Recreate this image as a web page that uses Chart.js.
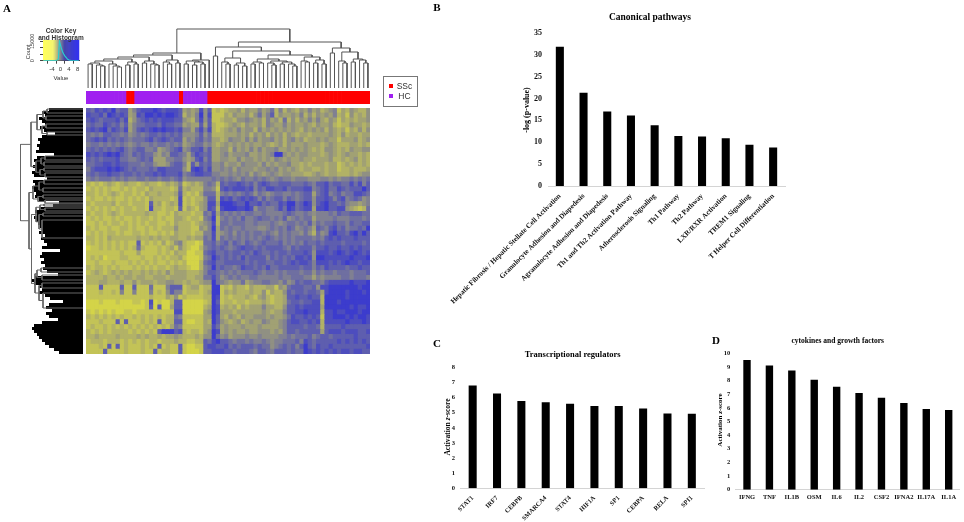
<!DOCTYPE html>
<html>
<head>
<meta charset="utf-8">
<title>SSc vs HC</title>
<script src="https://cdn.jsdelivr.net/npm/chart.js@4"></script>
<style>
  html, body { margin: 0; padding: 0; background: #fff; }
  #page { position: relative; width: 964px; height: 522px; overflow: hidden; filter: blur(0.4px); }
  #page canvas { position: absolute; }
  .txt { position: absolute; white-space: nowrap; color: #000; transform-origin: center; }
  .serif { font-family: "Liberation Serif", serif; font-weight: bold; }
  .sans { font-family: "Liberation Sans", sans-serif; color: #333; }
</style>
</head>
<body>
<div id="page"></div>
<script>
// panel B
var pathways = ["Hepatic Fibrosis / Hepatic Stellate Cell Activation", "Granulocyte Adhesion and Diapedesis",
  "Agranulocyte Adhesion and Diapedesis", "Th1 and Th2 Activation Pathway", "Atherosclerosis Signaling",
  "Th1 Pathway", "Th2 Pathway", "LXR/RXR Activation", "TREM1 Signaling", "T Helper Cell Differentiation"];
var pathwayLogP = [31.8, 21.3, 17.0, 16.1, 13.9, 11.4, 11.3, 10.9, 9.4, 8.8];

// panel C
var regulators = ["STAT1", "IRF7", "CEBPB", "SMARCA4", "STAT4", "HIF1A", "SP1", "CEBPA", "RELA", "SPI1"];
var regulatorZ = [6.8, 6.28, 5.78, 5.7, 5.6, 5.45, 5.45, 5.28, 4.95, 4.93];

// panel D
var cytokines = ["IFNG", "TNF", "IL1B", "OSM", "IL6", "IL2", "CSF2", "IFNA2", "IL17A", "IL1A"];
var cytokineZ = [9.52, 9.12, 8.75, 8.06, 7.55, 7.1, 6.75, 6.37, 5.92, 5.84];

// panel A, sample groups per column (H = HC, S = SSc)
var sampleGroup = "HHHHHHHHHHSSHHHHHHHHHHHSHHHHHHSSSSSSSSSSSSSSSSSSSSSSSSSSSSSSSSSSSSSSSS";

// panel A, expression level per cell: 0 yellow .. 9 blue. one string per row, spaces are only for counting
var heatRows = [
  "7687879677 3578889878 8873434847 1212334243 3534625243 2435342345 13243224",
  "8778698787 3487998989 9872435948 1113243342 4635724334 3524243435 23142324",
  "7876777868 2467878788 8774325847 1123324454 3425342624 2435353243 13232334",
  "6766876757 3566777687 7663433737 2112343243 3425433534 3343243342 12243323",
  "7878968768 3578789898 8785536858 2123435344 2534343434 3243434243 23132424",
  "6565776656 4565677676 7674445746 2223334342 4342434243 2332333343 24233233",
  "6787867676 5666786787 6773546756 3323544353 5344534245 3423343433 13334234",
  "5665656565 4565565665 6563456645 3234343434 3343234243 3343332343 22233232",
  "6767676786 5677556345 6784577857 3344253435 3534453343 4343232443 23243344",
  "8787898976 5767664354 7765368767 3345344453 3434599434 3443332343 23433232",
  "7676777866 5567673335 5664347857 3344335344 3434354343 3433233342 23234232",
  "6677887877 6665664334 6775274767 4453443544 4353434453 3232333233 12323232",
  "5788898987 6766676887 7774289868 4454535444 3445453434 3233223233 12232223",
  "6767787767 7676778787 7785678877 5544545453 5434543443 3322343233 22232344",
  "5656665656 5566566566 5674555555 6565654655 6565456554 5554445545 45565656",
  "2121232123 2212322123 2351232356 5276778767 5787667776 6676577867 76686857",
  "1212121121 2122132222 1262322255 4178788878 5768877867 7788567866 87677797",
  "2212123212 2121322322 2372121366 6256565676 4654566556 5677367856 75668876",
  "1211212112 1212132222 1281212247 7287867878 7575677576 5677477875 78567645",
  "2122223122 1222172312 3281212348 8399987797 7867668799 6798478977 67544345",
  "1212121212 2122182212 2171321348 7289998898 4665568698 6788388977 88432126",
  "2122123212 2222322112 1322212265 8365656566 5565555676 5565455565 76677766",
  "1212112121 1212212121 1332122156 9256565755 6766565745 6566355556 55566656",
  "1121212212 1212122112 1322212345 8266566655 6555654566 5657465667 66576677",
  "2121121122 1211212122 2422211435 9365655655 5445656576 4565376578 67566769",
  "1212122121 1221211212 1322212255 8345646565 6656546565 5464264589 77689797",
  "2212132222 2232232322 3322323365 8365656565 6567656565 6666565787 87778777",
  "1212121212 1171212131 2452110166 7567576576 5676667565 6576676777 76777767",
  "0112121212 1262111212 3142100256 7676567877 6767777657 6777577877 87787877",
  "1111111121 1131111212 1322001167 8667677676 8766767767 7787488878 98789878",
  "1212011122 1112112121 2231000156 9767676867 7775767676 8878499888 88898889",
  "1121112111 2121212112 1212000267 8667777767 6776677678 7887588878 78988788",
  "2122121211 1212121221 2322100256 9676656877 6768667777 7677576877 77677877",
  "1232123232 3223232324 2333222357 7656565666 7656656566 6566465665 66656667",
  "2222322323 3233223332 3333223366 8645656556 6555556556 6655354555 56656665",
  "2223322232 2423332334 4332322344 9654344634 5566554645 7677665788 88898889",
  "1117111171 1711161115 7771233122 9912132213 2223314367 7766748899 99999899",
  "1112112151 1511151214 7551222123 9913232223 2241322476 7767763899 99899989",
  "1111111111 1111121113 2412111122 9812122232 1342122377 8778772999 99899999",
  "0001000100 0110180100 2770000012 9712212212 2232122367 7677882999 89999999",
  "0000000000 0000170700 3770000023 9823231323 3353322477 8788883999 99989889",
  "1010101001 1011111111 1880000034 9833323333 3343233577 8898882889 88999899",
  "2121212121 1212121212 2651111133 9732432433 4443433468 7787871889 99898998",
  "1112111717 1112121712 2771001132 9743234234 3354334578 8778782888 88988898",
  "1211212121 2121212121 3651111133 8634333433 3433334577 7767762777 78777777",
  "2121212222 1212121799 9782122134 9834343343 3444343577 6777773788 87888778",
  "2232222322 2232322323 3432223244 9645344454 4544445565 6667567767 77778777",
  "1222122212 1212122122 2322112276 8977656656 5565455666 7587677777 87878787",
  "1112171712 1112121712 1171001178 8778676777 6766456767 5797687787 77777778",
  "1111711112 1112117122 1171000177 8887767776 5776577767 6698787878 78878877"
];

// top dendrogram: [height, left, right], 0 is a sample column
var sampleTree = [59,
  [35,
    [33,
      [31,
        [29,
          [27, [25, [24, 0, 0], [23, 0, [22, 0, 0]]], [24, 0, [22, 0, [21, 0, 0]]]],
          [26, [23, 0, 0], [24, 0, 0]]],
        [27, [25, 0, 0], [24, 0, [23, 0, 0]]]],
      [28, [26, 0, [24, 0, 0]], [25, 0, 0]]],
    [28, [27, [24, 0, 0], [26, [23, 0, 0], [24, 0, 0]]], 0]],
  [46,
    [41,
      [32, 0, 0],
      [37,
        [30, [26, 0, [24, 0, 0]], [25, [23, 0, 0], [22, 0, 0]]],
        [33,
          [29, [26, [24, 0, 0], [25, 0, 0]], [27, [25, 0, [23, 0, 0]], [26, [24, 0, 0], [24, 0, [22, 0, 0]]]]],
          [31, [27, 0, [26, 0, 0]], [28, [25, 0, 0], [24, 0, 0]]]]]],
    [40, [35, 0, 0], [36, [27, 0, [25, 0, 0]], [29, [26, 0, 0], [28, 0, [25, 0, 0]]]]]]];

// left dendrogram: [height, top, bottom], plain numbers are row positions
var geneTree = [62.5,
  [52,
    [46, [40, [36, 1, 5], [37, 8, 12]], [41, [37, 16, 20], [36, 24, 27]]],
    [47, [42, [38, 48, 52], [39, 54, 58]], [43, [39, 60, 63], [38, 65, 69]]]],
  [54,
    [50, [44, [39, 72, 76], [40, 80, 84]], [45, [40, 87, 90], [38, 92, 95]]],
    [51.5,
      [47, [43, [39, 96, 98], [38, 100, 103]], [44, [40, 105, 108], [41, 112, 130]]],
      [48, [46, [42, 160, 164], [41, 167, 172]], [44, [41, 175, 180], [40, 185, 200]]]]]];

// how far the black mass of the gene tree reaches, one value per 3 rows
var geneEdge = [34, 41, 38, 44, 41, 38, 43, 39, 28, 41, 45, 43, 46, 44, 47, 29, 46, 49, 47, 50, 48,
  51, 49, 36, 50, 48, 51, 49, 47, 48, 44, 24, 30, 44, 48, 46, 49, 47, 45, 43, 41, 44, 38, 42, 39,
  36, 41, 23, 41, 43, 39, 42, 38, 40, 36, 25, 48, 51, 49, 44, 41, 44, 38, 33, 20, 34, 37, 31, 37,
  34, 25, 41, 49, 51, 49, 46, 44, 41, 38, 34, 29, 24];

// color key
var keyBins = [-8, -7.5, -7, -6.5, -6, -5.5, -5, -4.5, -4, -3.5, -3, -2.5, -2, -1.5, -1, -0.5, 0, 0.5,
  1, 1.5, 2, 2.5, 3, 3.5, 4, 4.5, 5, 5.5, 6, 6.5, 7, 7.5, 8, 8.5];
var keyCounts = [0, 0, 0, 0, 0, 0, 0, 0, 0, 0, 0, 50, 200, 500, 1500, 15000, 12000, 9000,
  6800, 5200, 3800, 2800, 1800, 900, 500, 200, 100, 50, 20, 0, 0, 0, 0, 0];
var keyXTicks = [-4, 0, 4, 8];
var keyYTicks = [0, 5000, 10000, 15000];

var page = document.getElementById("page");

function addCanvas(x, y, w, h) {
  var c = document.createElement("canvas");
  c.width = w;
  c.height = h;
  c.style.left = x + "px";
  c.style.top = y + "px";
  c.style.width = w + "px";
  c.style.height = h + "px";
  page.appendChild(c);
  return c;
}

function addText(html, cx, cy, css, cls, rot) {
  var d = document.createElement("div");
  d.className = "txt " + cls;
  d.innerHTML = html;
  d.style.cssText = "left:" + cx + "px;top:" + cy + "px;transform:translate(-50%,-50%)" + (rot ? " rotate(" + rot + "deg)" : "") + ";" + css;
  page.appendChild(d);
}

function mix(a, b, t) {
  return "rgb(" + Math.round(a[0] + (b[0] - a[0]) * t) + "," + Math.round(a[1] + (b[1] - a[1]) * t) + "," + Math.round(a[2] + (b[2] - a[2]) * t) + ")";
}

// turn a nested tree into line pieces, NaN points break the line
function treeLines(tree, horizontal) {
  var pts = [];
  var next = 0;
  function put(pos, h) {
    pts.push(horizontal ? { x: h, y: pos } : { x: pos, y: h });
  }
  function walk(node) {
    if (!Array.isArray(node)) {
      var p = node === 0 ? next++ : node;
      return { pos: p, h: 0 };
    }
    var a = walk(node[1]);
    var b = walk(node[2]);
    put(a.pos, a.h);
    put(a.pos, node[0]);
    put(b.pos, node[0]);
    put(b.pos, b.h);
    pts.push({ x: NaN, y: NaN });
    return { pos: (a.pos + b.pos) / 2, h: node[0] };
  }
  walk(tree);
  return pts;
}

// bar panels B, C, D share this
function barPanel(box, plot, labels, values, o) {
  var c = addCanvas(box[0], box[1], box[2], box[3]);
  new Chart(c, {
    type: "bar",
    data: { labels: labels, datasets: [{ data: values, backgroundColor: "#000", barPercentage: o.barPct, categoryPercentage: 1 }] },
    options: {
      responsive: false,
      animation: false,
      layout: { padding: { top: plot[1] - box[1], right: box[0] + box[2] - plot[2], left: 0, bottom: 0 } },
      plugins: { legend: { display: false }, tooltip: { enabled: false } },
      scales: {
        x: {
          grid: { display: false, drawTicks: false },
          border: { color: "#d4d4d4" },
          ticks: {
            autoSkip: false, minRotation: o.rot, maxRotation: o.rot, padding: o.xPad, color: "#111",
            font: { family: "Liberation Serif", weight: "bold", size: o.xFont }
          },
          afterFit: function (s) { s.height = box[1] + box[3] - plot[3]; }
        },
        y: {
          min: 0, max: o.max,
          grid: { display: false, drawTicks: false },
          border: { display: false },
          ticks: {
            stepSize: o.step, padding: o.yPad, color: "#111",
            font: { family: "Liberation Serif", weight: "bold", size: o.yFont }
          },
          afterFit: function (s) { s.width = plot[0] - box[0]; }
        }
      }
    }
  });
}

barPanel([425, 22, 365, 296], [548, 30, 785, 186], pathways, pathwayLogP,
  { max: 35, step: 5, barPct: 0.34, rot: 45, xPad: 6, xFont: 7.2, yFont: 8, yPad: 6 });
barPanel([432, 358, 280, 164], [460.5, 365.7, 704, 488.3], regulators, regulatorZ,
  { max: 8, step: 1, barPct: 0.33, rot: 45, xPad: 6, xFont: 6.5, yFont: 6.5, yPad: 5.5 });
barPanel([712, 344, 252, 178], [735.8, 350, 959.9, 489.7], cytokines, cytokineZ,
  { max: 10, step: 1, barPct: 0.33, rot: 0, xPad: 3.5, xFont: 6.5, yFont: 6.5, yPad: 5.5 });

addText("Canonical pathways", 650, 17, "font-size:9.5px;", "serif");
addText("-log (p-value)", 525.7, 110, "font-size:8px;", "serif", -90);
addText("Transcriptional regulators", 572.7, 354, "font-size:8.5px;", "serif");
addText("Activation <i>z</i>-score", 446.7, 427, "font-size:7.5px;", "serif", -90);
addText("cytokines and growth factors", 837.7, 340, "font-size:7.5px;", "serif");
addText("Activation <i>z</i>-score", 720, 420, "font-size:7px;", "serif", -90);
addText("A", 7, 8, "font-size:11px;", "serif");
addText("B", 437, 7, "font-size:11px;", "serif");
addText("C", 437, 343, "font-size:11px;", "serif");
addText("D", 716, 340, "font-size:11px;", "serif");

// heatmap, one stacked bar dataset per column
var cleanRows = heatRows.map(function (r) { return r.replace(/ /g, ""); });
var heatDatasets = [];
for (var col = 0; col < 68; col++) {
  var colors = cleanRows.map(function (r) { return mix([212, 212, 72], [60, 60, 205], Number(r.charAt(col)) / 9); });
  heatDatasets.push({ data: cleanRows.map(function () { return 1; }), backgroundColor: colors, barPercentage: 1, categoryPercentage: 1, borderWidth: 0 });
}
var heatCanvas = addCanvas(86, 108, 284, 246);
heatCanvas.style.background = "#9a9a70";
new Chart(heatCanvas, {
  type: "bar",
  data: { labels: cleanRows.map(function (r, i) { return i; }), datasets: heatDatasets },
  options: {
    indexAxis: "y",
    responsive: false,
    animation: false,
    plugins: { legend: { display: false }, tooltip: { enabled: false } },
    scales: {
      x: { display: false, stacked: true, min: 0, max: 68 },
      y: { display: false, stacked: true }
    }
  }
});

// sample annotation strip
var groupList = sampleGroup.split("");
new Chart(addCanvas(86, 91, 284, 13), {
  type: "bar",
  data: {
    labels: groupList.map(function (g, i) { return i; }),
    datasets: [{
      data: groupList.map(function () { return 1; }),
      backgroundColor: groupList.map(function (g) { return g === "S" ? "#ff0000" : "#a020f0"; }),
      barPercentage: 1, categoryPercentage: 1
    }]
  },
  options: {
    responsive: false,
    animation: false,
    plugins: { legend: { display: false }, tooltip: { enabled: false } },
    scales: { x: { display: false }, y: { display: false, min: 0, max: 1 } }
  }
});

// top dendrogram
new Chart(addCanvas(86, 28, 284, 60), {
  type: "scatter",
  data: { datasets: [{ data: treeLines(sampleTree, false), showLine: true, spanGaps: false, borderColor: "#555", borderWidth: 1, pointRadius: 0 }] },
  options: {
    responsive: false,
    animation: false,
    plugins: { legend: { display: false }, tooltip: { enabled: false } },
    scales: { x: { display: false, min: -0.5, max: 67.5 }, y: { display: false, min: 0, max: 60 } }
  }
});

// left dendrogram, black mass first and then the branches
var massPts = [];
geneEdge.forEach(function (d, i) {
  massPts.push({ x: 0, y: i * 3 + 1.5 }, { x: d, y: i * 3 + 1.5 }, { x: NaN, y: NaN });
});
new Chart(addCanvas(14, 108, 69, 246), {
  type: "scatter",
  data: {
    datasets: [
      { data: treeLines(geneTree, true), showLine: true, spanGaps: false, borderColor: "#666", borderWidth: 1, pointRadius: 0 },
      { data: massPts, showLine: true, spanGaps: false, borderColor: "#000", borderWidth: 3.2, pointRadius: 0 }
    ]
  },
  options: {
    responsive: false,
    animation: false,
    plugins: { legend: { display: false }, tooltip: { enabled: false } },
    scales: { x: { display: false, reverse: true, min: 0, max: 69 }, y: { display: false, reverse: true, min: 0, max: 246 } }
  }
});

// color key with histogram
var rotatedTicks = {
  id: "rotatedTicks",
  afterDraw: function (chart) {
    var ctx = chart.ctx;
    var sc = chart.scales.y;
    ctx.save();
    ctx.font = "5.5px 'Liberation Sans'";
    ctx.fillStyle = "#333";
    ctx.textAlign = "center";
    [0, 15000].forEach(function (v) {
      ctx.save();
      ctx.translate(sc.right - 9, sc.getPixelForValue(v));
      ctx.rotate(-Math.PI / 2);
      ctx.fillText(String(v), 0, 0);
      ctx.restore();
    });
    ctx.restore();
  }
};
new Chart(addCanvas(24, 32, 62, 44), {
  type: "bar",
  data: {
    datasets: [
      {
        type: "line",
        data: keyBins.map(function (b, i) { return { x: b, y: keyCounts[i] }; }),
        borderColor: "#28cfd0", borderWidth: 1.2, pointRadius: 0, order: 0
      },
      {
        data: keyBins.map(function (b) { return { x: b, y: 16000 }; }),
        backgroundColor: keyBins.map(function (b) {
          if (b < -3) return mix([255, 255, 90], [245, 245, 110], (b + 8) / 5);
          if (b < 2) return mix([235, 235, 110], [70, 70, 170], (b + 3) / 5);
          return mix([70, 70, 170], [50, 50, 240], (b - 2) / 6.5);
        }),
        barPercentage: 1, categoryPercentage: 1, order: 1
      }
    ]
  },
  options: {
    responsive: false,
    animation: false,
    layout: { padding: { top: 8, right: 6.5, left: 0, bottom: 0 } },
    plugins: { legend: { display: false }, tooltip: { enabled: false } },
    scales: {
      x: {
        type: "linear", offset: false, min: -8.2, max: 8.9,
        grid: { drawOnChartArea: false, tickLength: 3, color: "#444" },
        border: { color: "#444" },
        afterBuildTicks: function (s) { s.ticks = keyXTicks.map(function (v) { return { value: v }; }); },
        ticks: { padding: 2, color: "#333", maxRotation: 0, font: { family: "Liberation Sans", size: 6 } },
        afterFit: function (s) { s.height = 15.3; }
      },
      y: {
        min: 0, max: 16000,
        grid: { drawOnChartArea: false, tickLength: 3, color: "#444" },
        border: { color: "#444" },
        afterBuildTicks: function (s) { s.ticks = keyYTicks.map(function (v) { return { value: v }; }); },
        ticks: { display: false },
        afterFit: function (s) { s.width = 19; }
      }
    }
  },
  plugins: [rotatedTicks]
});
addText("Color Key", 61, 30, "font-size:6.5px;font-weight:bold;", "sans");
addText("and Histogram", 61, 37, "font-size:6.5px;font-weight:bold;", "sans");
addText("Count", 28, 52, "font-size:5.5px;", "sans", -90);
addText("Value", 61, 78, "font-size:6px;", "sans");

// legend box
var legendBox = document.createElement("div");
legendBox.style.cssText = "position:absolute;left:383px;top:76px;width:33px;height:29px;border:1px solid #777;background:#fff;";
page.appendChild(legendBox);
[["SSc", "#ff0000", 86], ["HC", "#a020f0", 96]].forEach(function (e) {
  var sw = document.createElement("div");
  sw.style.cssText = "position:absolute;left:389px;top:" + (e[2] - 2) + "px;width:4px;height:4px;background:" + e[1] + ";";
  page.appendChild(sw);
  addText(e[0], 404.5, e[2], "font-size:8.5px;", "sans");
});
</script>
</body>
</html>
